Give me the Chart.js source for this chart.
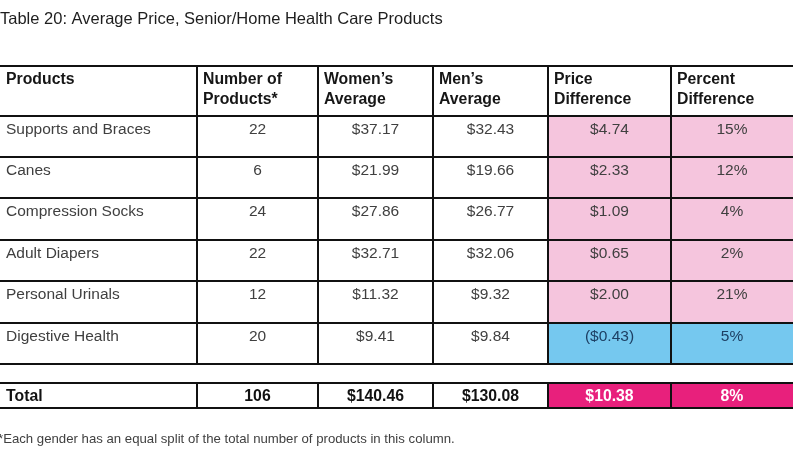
<!DOCTYPE html>
<html>
<head>
<meta charset="utf-8">
<script src="https://cdn.jsdelivr.net/npm/chart.js@4.4.1/dist/chart.umd.min.js"></script>
<style>
  html, body { margin: 0; padding: 0; background: #ffffff; }
  #wrap { width: 800px; height: 469px; }
</style>
</head>
<body>
<div id="wrap"><canvas id="c" width="800" height="469"></canvas></div>
<script>
// ---- Data ----
const title = 'Table 20: Average Price, Senior/Home Health Care Products';
const headers = [['Products'], ['Number of', 'Products*'], ['Women\u2019s', 'Average'], ['Men\u2019s', 'Average'], ['Price', 'Difference'], ['Percent', 'Difference']];
const products = ['Supports and Braces', 'Canes', 'Compression Socks', 'Adult Diapers', 'Personal Urinals', 'Digestive Health'];
const numProducts = [22, 6, 24, 22, 12, 20];
const womensAvg = [37.17, 21.99, 27.86, 32.71, 11.32, 9.41];
const mensAvg = [32.43, 19.66, 26.77, 32.06, 9.32, 9.84];
const priceDiff = [4.74, 2.33, 1.09, 0.65, 2.00, -0.43];
const percentDiff = [15, 12, 4, 2, 21, 5];
const totalLabel = 'Total';
const totalRow = [106, 140.46, 130.08, 10.38, 8];
const footnote = '*Each gender has an equal split of the total number of products in this column.';

// ---- Layout (table units on the chart's linear scales) ----
const colEdges = [0, 197, 318, 433, 548, 671, 793];
const headerTop = 66, headerBottom = 116;
const rowEdges = [116, 157, 198, 240, 281, 323, 364];
const totalTop = 383, totalBottom = 408;

const PINK = '#f5c5dd', BLUE = '#75c8ef', MAGENTA = '#e8207c';
const FONT = '"Liberation Sans", Arial, Helvetica, sans-serif';

function money(v) {
  return v < 0 ? '($' + Math.abs(v).toFixed(2) + ')' : '$' + v.toFixed(2);
}

const tablePlugin = {
  id: 'tablePlugin',
  afterDraw(chart) {
    const ctx = chart.ctx;
    const xs = chart.scales.x, ys = chart.scales.y;
    const X = v => xs.getPixelForValue(v);
    const Y = v => ys.getPixelForValue(v);
    ctx.save();

    // cell fills
    function fill(c, r0, r1, color) {
      ctx.fillStyle = color;
      ctx.fillRect(X(colEdges[c]), Y(r0), X(colEdges[c + 1]) - X(colEdges[c]), Y(r1) - Y(r0));
    }
    for (let i = 0; i < products.length; i++) {
      const col = priceDiff[i] < 0 ? BLUE : PINK;
      fill(4, rowEdges[i], rowEdges[i + 1], col);
      fill(5, rowEdges[i], rowEdges[i + 1], col);
    }
    fill(4, totalTop, totalBottom, MAGENTA);
    fill(5, totalTop, totalBottom, MAGENTA);

    // title
    ctx.fillStyle = '#1e1e1e';
    ctx.font = '16.5px ' + FONT;
    ctx.textAlign = 'left';
    ctx.textBaseline = 'alphabetic';
    ctx.fillText(title, X(0), Y(23.5));

    // headers
    ctx.font = 'bold 15.8px ' + FONT;
    ctx.fillStyle = '#161616';
    headers.forEach((lines, c) => {
      lines.forEach((t, k) => {
        ctx.fillText(t, X(colEdges[c] + 6), Y(84 + k * 20));
      });
    });

    // data rows
    ctx.font = '15.5px ' + FONT;
    for (let i = 0; i < products.length; i++) {
      const base = Y(rowEdges[i] + 17.5);
      ctx.fillStyle = '#404040';
      ctx.textAlign = 'left';
      ctx.fillText(products[i], X(colEdges[0] + 6), base);
      ctx.textAlign = 'center';
      const vals = [String(numProducts[i]), money(womensAvg[i]), money(mensAvg[i]), money(priceDiff[i]), percentDiff[i] + '%'];
      vals.forEach((t, k) => {
        ctx.fillStyle = k >= 3 && priceDiff[i] < 0 ? '#1d3f63' : '#404040';
        ctx.fillText(t, X((colEdges[k + 1] + colEdges[k + 2]) / 2), base);
      });
    }

    // total row
    ctx.font = 'bold 15.8px ' + FONT;
    const tb = Y(401);
    ctx.fillStyle = '#111';
    ctx.textAlign = 'left';
    ctx.fillText(totalLabel, X(colEdges[0] + 6), tb);
    ctx.textAlign = 'center';
    const tv = [String(totalRow[0]), money(totalRow[1]), money(totalRow[2]), money(totalRow[3]), totalRow[4] + '%'];
    tv.forEach((t, k) => {
      ctx.fillStyle = k >= 3 ? '#ffffff' : '#111';
      ctx.fillText(t, X((colEdges[k + 1] + colEdges[k + 2]) / 2), tb);
    });

    // lines
    ctx.strokeStyle = '#111';
    ctx.lineWidth = 2;
    function h(y) {
      ctx.beginPath(); ctx.moveTo(X(colEdges[0]), Y(y)); ctx.lineTo(X(colEdges[6]), Y(y)); ctx.stroke();
    }
    function v(x, y0, y1) {
      ctx.beginPath(); ctx.moveTo(X(x), Y(y0)); ctx.lineTo(X(x), Y(y1)); ctx.stroke();
    }
    h(headerTop);
    rowEdges.forEach(h);
    h(totalTop); h(totalBottom);
    for (let c = 1; c < 6; c++) {
      v(colEdges[c], headerTop, rowEdges[rowEdges.length - 1]);
      v(colEdges[c], totalTop, totalBottom);
    }

    // footnote
    ctx.font = '13.2px ' + FONT;
    ctx.fillStyle = '#404040';
    ctx.textAlign = 'left';
    ctx.fillText(footnote, X(-2), Y(443));

    ctx.restore();
  }
};

new Chart(document.getElementById('c'), {
  type: 'scatter',
  data: { datasets: [{ data: [], pointRadius: 0 }] },
  options: {
    responsive: false,
    animation: false,
    layout: { padding: 0 },
    plugins: { legend: { display: false }, tooltip: { enabled: false }, title: { display: false } },
    scales: {
      x: { type: 'linear', min: 0, max: 800, display: false },
      y: { type: 'linear', min: 0, max: 469, reverse: true, display: false }
    }
  },
  plugins: [tablePlugin]
});
</script>
</body>
</html>
